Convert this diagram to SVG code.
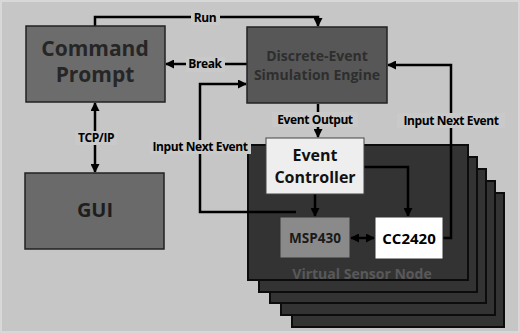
<svg xmlns="http://www.w3.org/2000/svg" width="520" height="333" viewBox="0 0 520 333">
<defs>
<marker id="ah" markerUnits="userSpaceOnUse" markerWidth="9" markerHeight="9" refX="8" refY="4.5" orient="auto-start-reverse">
<path d="M0,0 L9,4.5 L0,9 z" fill="#000"/>
</marker>
</defs>
<style>
.bx{stroke:#222;stroke-width:1.5}
.t{font-family:"Open Sans","Noto Sans",sans-serif;font-weight:bold;text-anchor:middle}
.lb{font-family:"Open Sans","Noto Sans",sans-serif;font-weight:bold;font-size:12px;letter-spacing:-0.4px;text-anchor:middle;fill:#000}
.ln{fill:none;stroke:#000;stroke-width:2.5}
.bg{fill:#c9c9c9}
.st{fill:#333333;stroke:#0c0c0c;stroke-width:2}
</style>
<rect width="520" height="333" fill="#c6c6c6"/>
<rect x="0" y="0" width="520" height="333" fill="none" stroke="#d8d8d8" stroke-width="4"/>

<g id="virtual-sensor-node">
<rect class="st" x="292" y="193" width="212" height="134"/>
<rect class="st" x="281" y="181" width="214" height="134"/>
<rect class="st" x="270" y="169" width="216" height="134"/>
<rect class="st" x="259" y="157" width="218" height="135"/>
<rect class="st" x="248" y="145" width="220" height="135" fill="#383838"/>
<text class="t" x="362" y="279" font-size="14" fill="#595959">Virtual Sensor Node</text>
</g>

<g id="connectors">
<path class="ln" d="M95 26 V17 H318 V26" marker-end="url(#ah)"/>
<path class="ln" d="M247 64 H166" marker-end="url(#ah)"/>
<path class="ln" d="M95 103 V172" marker-start="url(#ah)" marker-end="url(#ah)"/>
<path class="ln" d="M318 104 V137" marker-end="url(#ah)"/>
<path class="ln" d="M443 238 H451 V65 H388" marker-end="url(#ah)"/>
<path class="ln" d="M296 212 H200 V84 H246" marker-end="url(#ah)"/>
<path class="ln" d="M315 194 V216" marker-end="url(#ah)"/>
<path class="ln" d="M364 167 H408 V216" marker-end="url(#ah)"/>
<path class="ln" d="M351 238 H374" marker-start="url(#ah)" marker-end="url(#ah)"/>
<rect class="bg" x="191" y="10" width="29" height="15"/>
<text class="lb" x="205" y="22" font-size="13">Run</text>
<rect class="bg" x="186" y="57" width="39" height="15"/>
<text class="lb" x="205" y="68">Break</text>
<rect class="bg" x="75" y="131" width="42" height="14"/>
<text class="lb" x="96" y="142">TCP/IP</text>
<rect class="bg" x="150" y="140" width="101" height="14"/>
<text class="lb" x="200" y="151">Input Next Event</text>
<rect class="bg" x="272" y="112" width="86" height="15"/>
<text class="lb" x="315" y="124">Event Output</text>
<rect class="bg" x="397" y="113" width="108" height="15"/>
<text class="lb" x="451" y="125">Input Next Event</text>
</g>

<g id="command-prompt">
<rect class="bx" x="26" y="26" width="139" height="76" fill="#6c6c6c"/>
<text class="t" x="95" y="56" font-size="21" fill="#262626">Command</text>
<text class="t" x="95" y="82" font-size="21" fill="#262626">Prompt</text>
</g>

<g id="gui">
<rect class="bx" x="25" y="173" width="139" height="76" fill="#6a6a6a"/>
<text class="t" x="95" y="217" font-size="20" fill="#1e1e1e">GUI</text>
</g>

<g id="simulation-engine">
<rect class="bx" x="247" y="27" width="140" height="76" fill="#575757"/>
<text class="t" x="317" y="61" font-size="14" fill="#2e2e2e">Discrete-Event</text>
<text class="t" x="317" y="80" font-size="14" fill="#2e2e2e">Simulation Engine</text>
</g>

<g id="event-controller">
<rect x="266" y="138" width="98" height="56" fill="#eeeeee" stroke="#444" stroke-width="1"/>
<text class="t" x="315" y="161" font-size="16" fill="#111">Event</text>
<text class="t" x="315" y="183" font-size="16" fill="#111">Controller</text>
</g>

<g id="msp430">
<rect x="280" y="217" width="70" height="41" fill="#8a8a8a" stroke="#333" stroke-width="1"/>
<text class="t" x="315" y="243" font-size="13.5" fill="#1a1a1a">MSP430</text>
</g>

<g id="cc2420">
<rect x="375" y="217" width="68" height="42" fill="#ffffff" stroke="#333" stroke-width="1"/>
<text class="t" x="409" y="244" font-size="15" fill="#000">CC2420</text>
</g>
</svg>
